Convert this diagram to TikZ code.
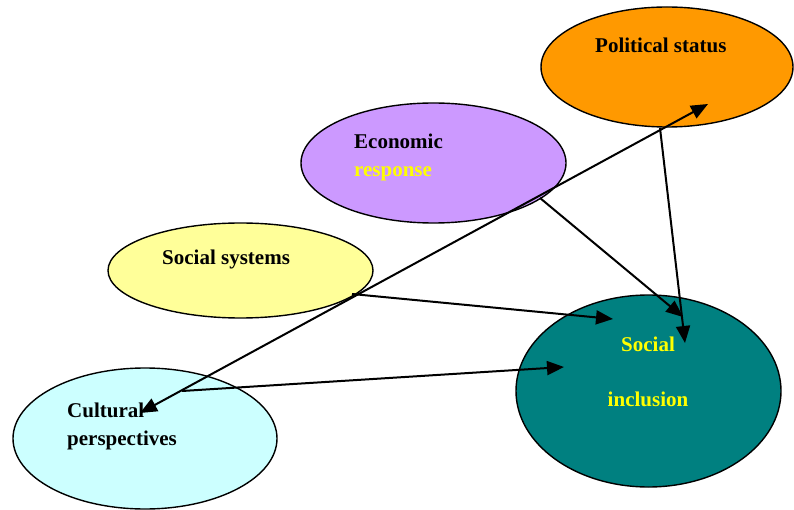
\documentclass[tikz,border=0pt]{standalone}
\usepackage{fontspec}
\setmainfont{Liberation Serif}
\usetikzlibrary{shapes.geometric,arrows.meta}
\definecolor{polor}{HTML}{FF9900}
\definecolor{ecopur}{HTML}{CC99FF}
\definecolor{socyel}{HTML}{FFFF99}
\definecolor{culcyan}{HTML}{CCFFFF}
\definecolor{incteal}{HTML}{008080}
\definecolor{txtyel}{HTML}{FFFF00}
\tikzset{
  oval/.style={ellipse, draw=black, line width=1.4pt, inner sep=0pt},
  lbl/.style={inner sep=0pt, anchor=base west, font=\fontsize{21}{25}\selectfont\bfseries},
  clbl/.style={inner sep=0pt, anchor=base, font=\fontsize{21}{25}\selectfont\bfseries, text=txtyel},
  conn/.style={line width=2pt, -{Triangle[length=17pt,width=14pt]}},
  dconn/.style={line width=2pt, {Triangle[length=17pt,width=14pt]}-{Triangle[length=17pt,width=14pt]}}
}
\begin{document}
\begin{tikzpicture}[x=1pt,y=-1pt]
\path[use as bounding box, fill=white] (0,0) rectangle (794,510);
% ellipses
\node[oval, fill=polor, minimum width=252pt, minimum height=120pt] (pol) at (667,67) {};
\node[oval, fill=ecopur, minimum width=265pt, minimum height=120pt] (eco) at (433.5,163) {};
\node[oval, fill=socyel, minimum width=265pt, minimum height=95pt] (sys) at (240.5,270.5) {};
\node[oval, fill=culcyan, minimum width=264pt, minimum height=141pt] (cul) at (145,438.5) {};
\node[oval, fill=incteal, minimum width=265pt, minimum height=192pt] (inc) at (648.5,391) {};
% labels
\node[lbl] (polt) at (595,53) {Political status};
\node[lbl] (ecot1) at (354,149) {Economic};
\node[lbl, text=txtyel] (ecot2) at (354,177) {response};
\node[lbl] (syst) at (162,265) {Social systems};
\node[lbl] (cult1) at (67,417) {Cultural};
\node[lbl] (cult2) at (67,445) {perspectives};
\node[clbl] (inct1) at (648,351) {Social};
\node[clbl] (inct2) at (648,406) {inclusion};
% connector end points
\coordinate (polbot) at (660,128);
\coordinate (poltip) at (708,104);
\coordinate (cultip) at (140,413);
\coordinate (ecobot) at (540,198);
\coordinate (sysbot) at (352,294);
\coordinate (culin) at (182,391);
\coordinate (incA) at (685,343);
\coordinate (incB) at (683,317);
\coordinate (incC) at (613,319);
\coordinate (incD) at (564,367);
% connectors
\draw[dconn] (cultip) -- (poltip);
\draw[conn] (polbot) -- (incA);
\draw[conn] (ecobot) -- (incB);
\draw[conn] (sysbot) -- (incC);
\draw[conn] (culin) -- (incD);
\end{tikzpicture}
\end{document}
